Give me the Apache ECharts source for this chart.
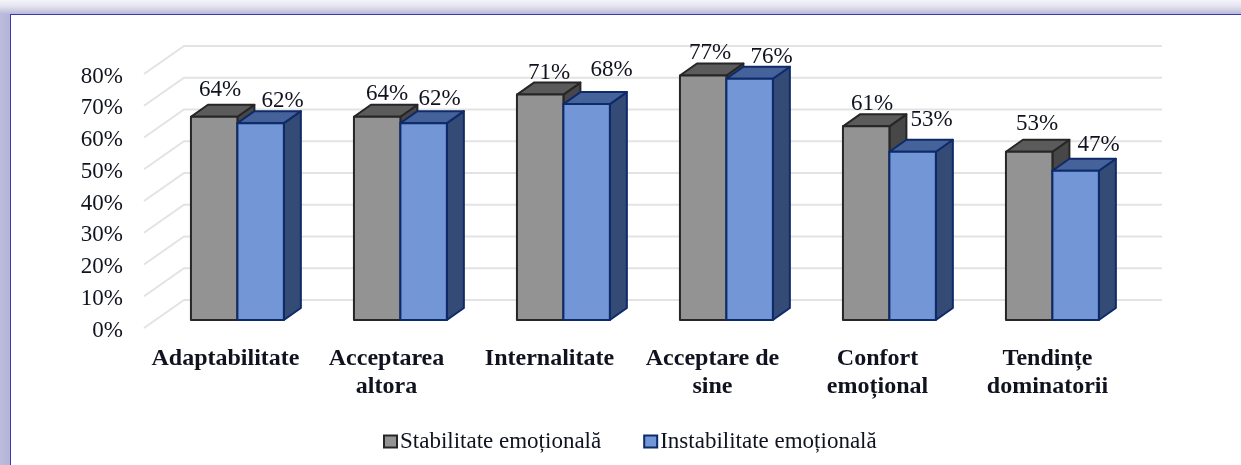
<!DOCTYPE html>
<html>
<head>
<meta charset="utf-8">
<style>
html, body { margin: 0; padding: 0; width: 1241px; height: 465px; overflow: hidden; background: #fff; }
#frame { position: absolute; left: 0; top: 0; width: 1241px; height: 14px; background: linear-gradient(#f4f4f9, #e4e4f0 45%, #b9b9da); }
#frameLeft { position: absolute; left: 0; top: 0; width: 10px; height: 465px; background: linear-gradient(90deg, #bcbcdc, #b4b4d8); }
#paper { position: absolute; left: 10px; top: 14px; width: 1231px; height: 451px; background: #fff; border-top: 1px solid #3a3ab0; border-left: 1px solid #3a3ab0; box-sizing: border-box; }
#main { position: absolute; left: 0; top: 0; width: 1241px; height: 465px; filter: blur(0.4px); }
</style>
<script src="https://cdn.jsdelivr.net/npm/echarts@6/dist/echarts.min.js"></script>
</head>
<body>
<div id="frameLeft"></div>
<div id="frame"></div>
<div id="paper"></div>
<div id="main"></div>
<script>
var categories = ['Adaptabilitate', 'Acceptarea\naltora', 'Internalitate', 'Acceptare de\nsine', 'Confort\nemoțional', 'Tendințe\ndominatorii'];
var stabilitate = [64, 64, 71, 77, 61, 53];
var instabilitate = [62, 62, 68, 76, 53, 47];
var gridTicks = [0, 10, 20, 30, 40, 50, 60, 70, 80];

// hand placed labels, same as in the original chart (px from top centre of the bar)
var stabLabelX = [6, 10, 9, 7, 6, 8];
var stabLabelY = [-27, -23, -22, -23, -22, -28];
var instLabelX = [22, 16, 25, 22, 19, 23];
var instLabelY = [-22, -24, -34, -22, -32, -26];
var categoryShift = [0, -2, -2, -2, 0, 7];

var FONT = '"Liberation Serif", serif';
var TEXT = '#10131f';
var wallX = 40, wallY = 28;     // depth of the whole box
var barStartX = 11.9, barStartY = 8;  // where the bars stand on the floor
var barDepthX = 17, barDepthY = 12;
var barRatio = 0.285;

function renderWall(params, api) {
    var p = api.coord([0, api.value(0)]);
    var left = params.coordSys.x;
    var right = left + params.coordSys.width;
    return {
        type: 'polyline',
        silent: true,
        shape: { points: [[left, p[1]], [left + wallX, p[1] - wallY], [right + wallX, p[1] - wallY]] },
        style: { fill: null, stroke: '#e3e3e3', lineWidth: 2 }
    };
}

function makeBar(pos, colors, labelX, labelY) {
    return function (params, api) {
        var c = api.coord([api.value(0), api.value(1)]);
        var base = api.coord([api.value(0), 0]);
        var w = api.size([1, 0])[0] * barRatio;
        var x0 = c[0] + barStartX + (pos - 1) * w;
        var x1 = x0 + w;
        var top = c[1] - barStartY;
        var bottom = base[1] - barStartY;
        var stroke = { stroke: colors.line, lineWidth: 2, lineJoin: 'round' };
        return {
            type: 'group',
            children: [{
                type: 'polygon',
                shape: { points: [[x1, top], [x1 + barDepthX, top - barDepthY], [x1 + barDepthX, bottom - barDepthY], [x1, bottom]] },
                style: Object.assign({ fill: colors.side }, stroke)
            }, {
                type: 'polygon',
                shape: { points: [[x0, top], [x0 + barDepthX, top - barDepthY], [x1 + barDepthX, top - barDepthY], [x1, top]] },
                style: Object.assign({ fill: colors.top }, stroke)
            }, {
                type: 'rect',
                shape: { x: x0, y: top, width: w, height: bottom - top },
                style: Object.assign({ fill: colors.front }, stroke)
            }, {
                type: 'text',
                x: (x0 + x1) / 2 + labelX[params.dataIndex],
                y: top + labelY[params.dataIndex],
                style: {
                    text: api.value(1) + '%',
                    font: '23px ' + FONT,
                    fill: TEXT,
                    align: 'center',
                    verticalAlign: 'middle'
                }
            }]
        };
    };
}

function toPairs(values) {
    return values.map(function (v, i) { return [i, v]; });
}

var grayBar = { front: '#939393', top: '#5b5b5b', side: '#474747', line: '#262626' };
var blueBar = { front: '#7296d6', top: '#45639a', side: '#344b76', line: '#0e2a68' };

var chart = echarts.init(document.getElementById('main'), null, { renderer: 'canvas' });
chart.setOption({
    backgroundColor: 'transparent',
    animation: false,
    grid: { left: 144, right: 119, top: 74, bottom: 137 },
    legend: {
        data: ['Stabilitate emoțională', 'Instabilitate emoțională'],
        left: 378,
        top: 425,
        icon: 'rect',
        itemWidth: 13,
        itemHeight: 12,
        itemGap: 42,
        textStyle: { fontFamily: FONT, fontSize: 23, color: TEXT, padding: [0, 0, 0, -2] }
    },
    xAxis: {
        type: 'category',
        data: categories.map(function (name, i) {
            var s = categoryShift[i] * 2;
            return { value: name, textStyle: { padding: [0, s < 0 ? -s : 0, 0, s > 0 ? s : 0] } };
        }),
        axisLine: { show: false },
        axisTick: { show: false },
        splitLine: { show: false },
        axisLabel: { fontFamily: FONT, fontSize: 24, fontWeight: 'bold', color: TEXT, margin: 17, lineHeight: 28, interval: 0 }
    },
    yAxis: {
        type: 'value',
        min: 0,
        max: 80,
        interval: 10,
        axisLine: { show: false },
        axisTick: { show: false },
        splitLine: { show: false },
        axisLabel: {
            formatter: '{n|{value}%}',
            margin: 21,
            rich: { n: { fontFamily: FONT, fontSize: 23, color: TEXT, padding: [5, 0, 0, 0] } }
        }
    },
    series: [{
        name: 'wall',
        type: 'custom',
        silent: true,
        clip: false,
        z: 1,
        renderItem: renderWall,
        encode: { y: 0 },
        data: gridTicks.map(function (t) { return [t]; })
    }, {
        name: 'Stabilitate emoțională',
        type: 'custom',
        clip: false,
        z: 2,
        itemStyle: { color: '#939393', borderColor: '#262626', borderWidth: 2 },
        renderItem: makeBar(0, grayBar, stabLabelX, stabLabelY),
        encode: { x: 0, y: 1 },
        data: toPairs(stabilitate)
    }, {
        name: 'Instabilitate emoțională',
        type: 'custom',
        clip: false,
        z: 3,
        itemStyle: { color: '#7296d6', borderColor: '#0e2a68', borderWidth: 2 },
        renderItem: makeBar(1, blueBar, instLabelX, instLabelY),
        encode: { x: 0, y: 1 },
        data: toPairs(instabilitate)
    }]
});
</script>
</body>
</html>
